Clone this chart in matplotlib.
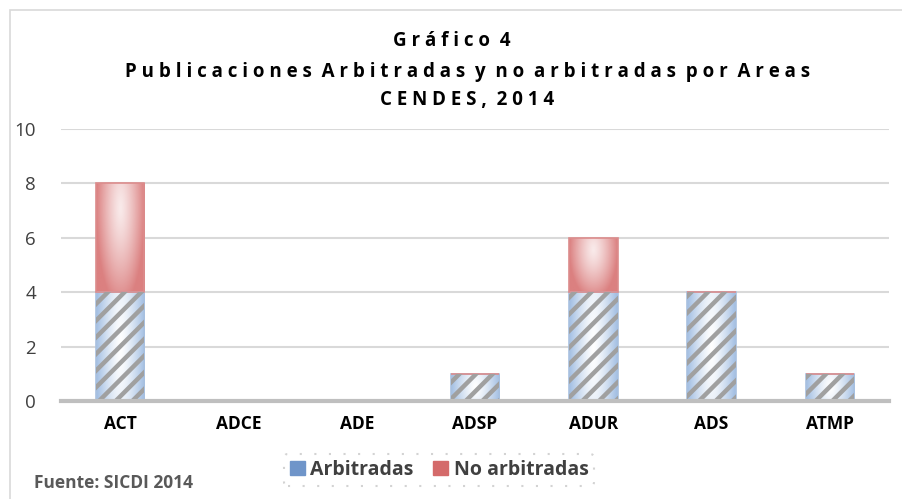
import numpy as np
import matplotlib.pyplot as plt
from matplotlib.patches import Patch, Rectangle
from matplotlib.colors import to_rgb

# datos
categorias = ['ACT', 'ADCE', 'ADE', 'ADSP', 'ADUR', 'ADS', 'ATMP']
arbitradas = [4, 0, 0, 1, 4, 4, 1]
no_arbitradas = [4, 0, 0, 0, 2, 0, 0]
ticks_y = [0, 2, 4, 6, 8, 10]

plt.rcParams['hatch.linewidth'] = 3.2


def degradado(ax, barras, color_borde, color_centro, cy=0.0, ky=0.5):
    # relleno con degradado radial suave (estilo Excel)
    c1 = np.array(to_rgb(color_centro))
    c2 = np.array(to_rgb(color_borde))
    for b in barras:
        h = b.get_height()
        if h <= 0:
            continue
        x0, y0, w = b.get_x(), b.get_y(), b.get_width()
        X, Y = np.meshgrid(np.linspace(-1, 1, 80), np.linspace(-1, 1, 80))
        r = np.clip(np.sqrt(X ** 2 + ((Y - cy) * ky) ** 2), 0, 1) ** 1.3
        img = c1[None, None, :] * (1 - r[..., None]) + c2[None, None, :] * r[..., None]
        im = ax.imshow(img, extent=(x0, x0 + w, y0, y0 + h), aspect='auto', zorder=2,
                       interpolation='bilinear', origin='lower')
        im.set_clip_path(b)


fig = plt.figure(figsize=(9.02, 4.99), dpi=100)
ax = fig.add_axes([0.0676, 0.1964, 0.918, 0.5451])

x = np.arange(len(categorias))
ancho = 0.41

# barras arbitradas: degradado + rayado gris
b1 = ax.bar(x, arbitradas, width=ancho, color='none', edgecolor='#a9c1e0', linewidth=1.2, zorder=3)
degradado(ax, b1, '#a3bfe3', '#ffffff', cy=0.0, ky=0.3)
ax.bar(x, arbitradas, width=ancho, color='none', edgecolor='#a0a0a0', hatch='//', linewidth=0, zorder=4)
# barras no arbitradas
b2 = ax.bar(x, no_arbitradas, width=ancho, bottom=arbitradas, color='none', edgecolor='#dc8c8c',
            linewidth=1.2, zorder=3)
degradado(ax, b2, '#db8080', '#f9eaea', cy=0.55, ky=0.55)

ax.set_xlim(-0.5, len(categorias) - 0.5)
ax.set_ylim(0, 10)
ax.set_yticks(ticks_y)
ax.set_yticklabels([str(t) for t in ticks_y], fontsize=13.5, color='#404040', family='Open Sans')
ax.set_xticks(x)
ax.set_xticklabels(categorias, fontsize=12.5, fontweight='bold', color='#000000', family='Open Sans')
ax.tick_params(length=0, pad=10)
ax.tick_params(axis='y', pad=18)

ax.grid(axis='y', color='#d9d9d9', linewidth=1.5, zorder=0)
ax.set_axisbelow(True)
for s in ['top', 'right', 'left']:
    ax.spines[s].set_visible(False)
ax.spines['bottom'].set_color('#bfbfbf')
ax.spines['bottom'].set_linewidth(3)
ax.spines['bottom'].set_zorder(5)

# titulo con letras espaciadas
lineas = ['Gráfico 4', 'Publicaciones Arbitradas y no arbitradas por Areas', 'CENDES, 2014']
ys = [0.918, 0.855, 0.800]
xs = [0.501, 0.518, 0.518]
for t, xx, yy in zip(lineas, xs, ys):
    fig.text(xx, yy, ' '.join(t).replace('   ', '  '), ha='center', va='center',
             fontsize=13.5, fontweight='bold', color='#000000', family='Open Sans')

# leyenda
handles = [Patch(facecolor='#6f95c9', edgecolor='#6f95c9', label='Arbitradas'),
           Patch(facecolor='#d46a6a', edgecolor='#d46a6a', label='No arbitradas')]
leg = fig.legend(handles=handles, loc='center', bbox_to_anchor=(0.487, 0.058), ncol=2,
                 frameon=True, fontsize=14, handlelength=0.75, handleheight=0.75,
                 handletextpad=0.3, columnspacing=1.0, borderpad=0.3)
for txt in leg.get_texts():
    txt.set_color('#404040')
    txt.set_fontweight('bold')
    txt.set_family('Open Sans')
leg.get_frame().set_edgecolor('#c8c8c8')
leg.get_frame().set_linestyle((0, (1, 6)))
leg.get_frame().set_linewidth(1.5)

fig.text(0.038, 0.032, 'Fuente: SICDI 2014', fontsize=12.5, fontweight='bold', color='#595959',
         family='Open Sans', ha='left', va='center')

# borde del grafico
fig.patches.append(Rectangle((0.011, -0.01), 0.995, 0.99, transform=fig.transFigure,
                             fill=False, edgecolor='#d9d9d9', linewidth=1.2))

plt.savefig('out.png', dpi=100)
